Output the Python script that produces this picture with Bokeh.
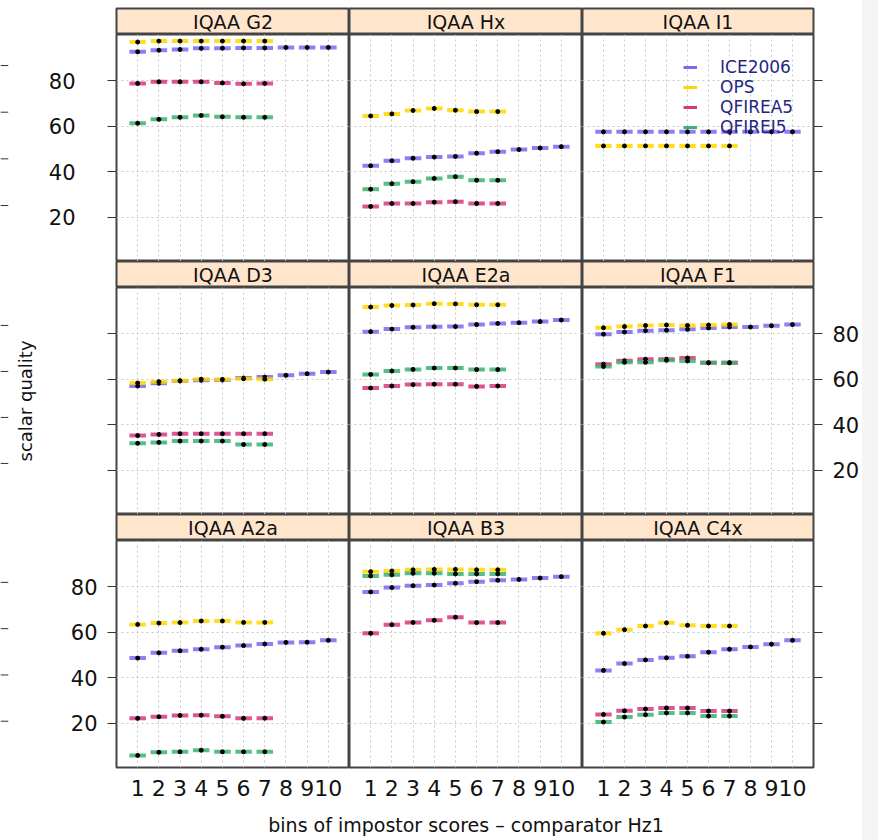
from bokeh.plotting import figure
from bokeh.layouts import gridplot, column, row
from bokeh.models import (Range1d, LinearAxis, FixedTicker, Grid, Legend,
                          LegendItem, ColumnDataSource, Spacer,
                          CustomLabelingPolicy)
from bokeh.embed import file_html
from bokeh.resources import INLINE
from bokeh.core.properties import value

# ---------------- data ----------------
bins = [1, 2, 3, 4, 5, 6, 7, 8, 9, 10]
comparators = ["ICE2006", "OPS", "QFIREA5", "QFIREI5"]
colors = ["#7B68EE", "#FFD700", "#D6397C", "#3CB371"]
y_ticks = [20, 40, 60, 80]
x_label = "bins of impostor scores \u2013 comparator Hz1"
y_label = "scalar quality"
panel_names = ["IQAA G2", "IQAA Hx", "IQAA I1",
               "IQAA D3", "IQAA E2a", "IQAA F1",
               "IQAA A2a", "IQAA B3", "IQAA C4x"]

iqaa_g2 = {
    "ICE2006": [92.7, 93.4, 93.7, 94.2, 94.3, 94.4, 94.4, 94.6, 94.6, 94.6],
    "OPS": [97.0, 97.4, 97.4, 97.4, 97.4, 97.4, 97.4],
    "QFIREA5": [78.8, 79.5, 79.5, 79.5, 79.0, 78.6, 78.8],
    "QFIREI5": [61.3, 63.0, 63.9, 64.7, 64.1, 63.9, 63.9],
}
iqaa_hx = {
    "ICE2006": [42.6, 44.8, 45.9, 46.4, 46.7, 48.1, 48.8, 49.7, 50.4, 51.0],
    "OPS": [64.5, 65.4, 66.9, 67.8, 67.0, 66.4, 66.4],
    "QFIREA5": [24.7, 26.0, 26.0, 26.6, 26.8, 26.0, 26.0],
    "QFIREI5": [32.3, 34.7, 35.6, 37.0, 37.8, 36.2, 36.2],
}
iqaa_i1 = {
    "ICE2006": [57.5, 57.5, 57.5, 57.5, 57.5, 57.5, 57.5, 57.5, 57.5, 57.5],
    "OPS": [51.3, 51.3, 51.3, 51.3, 51.3, 51.3, 51.3],
}
iqaa_d3 = {
    "ICE2006": [57.0, 58.2, 59.2, 59.5, 59.6, 60.5, 60.9, 61.7, 62.4, 63.1],
    "OPS": [58.3, 58.9, 59.3, 60.0, 59.9, 60.2, 60.0],
    "QFIREA5": [35.2, 35.7, 36.0, 36.0, 36.0, 36.0, 36.0],
    "QFIREI5": [31.8, 32.2, 32.8, 32.8, 32.8, 31.3, 31.3],
}
iqaa_e2a = {
    "ICE2006": [80.9, 82.0, 82.8, 83.0, 83.1, 84.0, 84.5, 84.8, 85.3, 86.0],
    "OPS": [91.7, 92.4, 92.6, 93.2, 93.1, 92.7, 92.7],
    "QFIREA5": [56.1, 57.0, 57.6, 57.8, 57.8, 56.8, 57.0],
    "QFIREI5": [62.1, 63.6, 64.3, 64.9, 64.9, 64.2, 64.2],
}
iqaa_f1 = {
    "ICE2006": [79.8, 80.7, 81.3, 81.5, 81.9, 82.5, 82.9, 82.9, 83.5, 84.0],
    "OPS": [82.6, 83.1, 83.6, 83.8, 83.6, 83.8, 84.0],
    "QFIREA5": [66.6, 68.1, 68.8, 68.8, 69.3, 67.2, 67.2],
    "QFIREI5": [65.6, 67.4, 67.4, 68.3, 68.0, 67.2, 67.2],
}
iqaa_a2a = {
    "ICE2006": [48.6, 50.9, 51.8, 52.5, 53.4, 54.1, 54.8, 55.5, 55.6, 56.4],
    "OPS": [63.4, 64.0, 64.2, 64.9, 64.9, 64.3, 64.3],
    "QFIREA5": [22.1, 22.8, 23.4, 23.5, 23.0, 22.1, 22.2],
    "QFIREI5": [5.8, 7.2, 7.4, 8.1, 7.4, 7.4, 7.4],
}
iqaa_b3 = {
    "ICE2006": [77.7, 79.6, 80.4, 80.7, 81.5, 82.2, 82.8, 83.2, 83.8, 84.4],
    "OPS": [86.6, 86.9, 87.4, 87.6, 87.6, 87.4, 87.4],
    "QFIREA5": [59.5, 63.3, 64.3, 65.2, 66.6, 64.2, 64.2],
    "QFIREI5": [84.7, 85.2, 85.9, 85.9, 85.6, 85.6, 85.6],
}
iqaa_c4x = {
    "ICE2006": [43.2, 46.2, 47.8, 48.7, 49.4, 51.2, 52.5, 53.5, 54.7, 56.4],
    "OPS": [59.5, 61.1, 62.7, 64.1, 63.0, 62.7, 62.7],
    "QFIREA5": [23.8, 25.4, 26.2, 26.7, 26.7, 25.3, 25.3],
    "QFIREI5": [20.5, 22.7, 23.7, 24.5, 24.5, 23.1, 23.1],
}
panels_data = [iqaa_g2, iqaa_hx, iqaa_i1, iqaa_d3, iqaa_e2a, iqaa_f1,
               iqaa_a2a, iqaa_b3, iqaa_c4x]

# ---------------- layout constants ----------------
FONT = "DejaVu Sans"
col_widths = [339, 233, 280]
col_border_left = [106, 0, 0]
col_border_right = [0, 0, 47]
panel_heights = [227, 227, 268]
panel_border_bottom = [0, 0, 41]
strip_heights = [34, 26, 26]
strip_border_top = [8, 0, 0]
stray_ranges = [(-4.0, 93.3), (-2.2, 96.5), (0.0, 98.1)]
left_label_standoff = [32, 10, 10]
OUTLINE = "#444444"
GRID_COLOR = "#c8c8c8"

HIDE_ALL = "for (const i of indices) { indices.unset(i) }\nreturn indices"


def base_fig(width, height, xr, yr, **kw):
    p = figure(width=width, height=height, x_range=xr, y_range=yr,
               output_backend="svg", toolbar_location=None,
               x_axis_location=None, y_axis_location=None,
               min_border=0, **kw)
    p.grid.visible = False
    return p


def y_axis(show_labels, standoff=10, **kw):
    ax = LinearAxis(
        ticker=FixedTicker(ticks=y_ticks),
        major_tick_in=0, major_tick_out=9, minor_tick_in=0, minor_tick_out=0,
        axis_line_color=None, major_tick_line_color="#333333",
        major_label_text_font=FONT, major_label_text_color="#111111",
        major_label_text_font_size="21px" if show_labels else "2px",
        major_label_standoff=standoff if show_labels else 0, **kw)
    if not show_labels:
        ax.major_label_policy = CustomLabelingPolicy(code=HIDE_ALL)
    return ax


def make_strip(r, c, name):
    p = base_fig(col_widths[c], strip_heights[r], Range1d(0, 1), Range1d(0, 1),
                 min_border_left=col_border_left[c],
                 min_border_right=col_border_right[c],
                 min_border_top=strip_border_top[r])
    p.background_fill_color = "#FFE5CC"
    p.outline_line_color = OUTLINE
    p.outline_line_width = 2
    p.text(x=[0.5], y=[0.5], text=[name], text_align="center",
           text_baseline="middle", text_font=value(FONT),
           text_font_size="19px", text_color="#111111")
    return p


def make_panel(r, c, data):
    p = base_fig(col_widths[c], panel_heights[r], Range1d(0, 11),
                 Range1d(0.5, 100.3),
                 min_border_left=col_border_left[c],
                 min_border_right=col_border_right[c],
                 min_border_bottom=panel_border_bottom[r])
    p.outline_line_color = OUTLINE
    p.outline_line_width = 2
    p.background_fill_color = "white"
    gx = Grid(dimension=0, axis=LinearAxis(ticker=FixedTicker(ticks=bins)),
              grid_line_color=GRID_COLOR, grid_line_dash="2 3")
    gy = Grid(dimension=1, axis=LinearAxis(ticker=FixedTicker(ticks=y_ticks)),
              grid_line_color=GRID_COLOR, grid_line_dash="2 3")
    p.add_layout(gx, "center")
    p.add_layout(gy, "center")

    for comp, col in zip(comparators, colors):
        if comp not in data:
            continue
        vals = data[comp]
        src = ColumnDataSource(dict(x=bins[:len(vals)], y=vals))
        p.rect(x="x", y="y", width=0.78, height=4, height_units="screen",
               source=src, fill_color=col, fill_alpha=0.85, line_color=None)
        p.scatter(x="x", y="y", source=src, size=4, color="black")

    # axes
    if c == 0:
        if r == 1:
            ax = y_axis(False, axis_label=y_label,
                        axis_label_text_font=FONT,
                        axis_label_text_font_size="18px",
                        axis_label_text_font_style="normal",
                        axis_label_text_color="#111111",
                        axis_label_standoff=66)
        else:
            ax = y_axis(True, standoff=left_label_standoff[r])
        p.add_layout(ax, "left")
    if c == 2:
        p.add_layout(y_axis(r == 1), "right")
    if r == 2:
        xa = LinearAxis(ticker=FixedTicker(ticks=bins),
                        major_tick_in=0, major_tick_out=0,
                        minor_tick_in=0, minor_tick_out=0,
                        axis_line_color=None,
                        major_label_text_font=FONT,
                        major_label_text_color="#111111",
                        major_label_text_font_size="22px",
                        major_label_standoff=12)
        p.add_layout(xa, "below")

    # legend inside the IQAA I1 panel
    if r == 0 and c == 2:
        items = []
        for comp, col in zip(comparators, colors):
            lr = p.line(x=[float("nan")], y=[float("nan")],
                        line_color=col, line_width=3)
            items.append(LegendItem(label=comp, renderers=[lr]))
        leg = Legend(items=items, location=(101, 124), padding=0, margin=0,
                     spacing=0, glyph_width=14, glyph_height=18,
                     label_height=18, label_standoff=23,
                     label_text_font=FONT, label_text_font_size="17px",
                     label_text_color="#262680",
                     background_fill_alpha=0, border_line_color=None)
        p.add_layout(leg, "center")
    return p


def make_stray(r):
    p = base_fig(10, panel_heights[r], Range1d(0, 1), Range1d(*stray_ranges[r]),
                 min_border_right=2, min_border_bottom=panel_border_bottom[r])
    p.outline_line_color = None
    p.segment(x0=[0] * len(y_ticks), y0=y_ticks, x1=[1] * len(y_ticks),
              y1=y_ticks, line_color="#333333", line_width=1)
    return p


grid_rows = []
for r in range(3):
    strip_row = [None]
    panel_row = [make_stray(r)]
    for c in range(3):
        idx = r * 3 + c
        strip_row.append(make_strip(r, c, panel_names[idx]))
        panel_row.append(make_panel(r, c, panels_data[idx]))
    grid_rows.append(strip_row)
    grid_rows.append(panel_row)

grid = gridplot(grid_rows, toolbar_location=None)

xlab = base_fig(862, 32, Range1d(0, 1), Range1d(0, 1),
                min_border_left=116, min_border_right=47)
xlab.outline_line_color = None
xlab.text(x=[0.5], y=[0.5], text=[x_label], text_align="center",
          text_baseline="middle", text_font=value(FONT),
          text_font_size="19px", text_color="#111111")

gray = Spacer(width=16, height=840, styles={"background-color": "#f5f5f5"})

layout = row(column(grid, xlab), gray)

with open("out.html", "w") as f:
    f.write(file_html(layout, INLINE, title="IQAA scalar quality"))
